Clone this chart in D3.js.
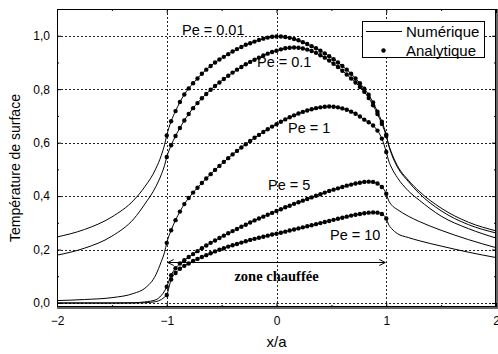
<!DOCTYPE html>
<html>
<head>
<meta charset="utf-8">
<script src="https://cdn.jsdelivr.net/npm/d3@7"></script>
<style>
  body { margin: 0; background: #fff; }
  svg { display: block; }
  text { font-family: "Liberation Sans", Arial, sans-serif; fill: #000; }
  text.serif { font-family: "Liberation Serif", "Times New Roman", serif; font-weight: bold; }
</style>
</head>
<body>
<svg id="chart" width="498" height="354"></svg>
<script>
// x/a positions of the analytic points (inside the heated zone)
const xAnalytic = [-1.00,-0.96,-0.92,-0.88,-0.84,-0.80,-0.76,-0.72,-0.68,-0.64,-0.60,-0.56,-0.52,-0.48,-0.44,-0.40,-0.36,-0.32,-0.28,-0.24,-0.20,-0.16,-0.12,-0.08,-0.04,
  0.00,0.04,0.08,0.12,0.16,0.20,0.24,0.28,0.32,0.36,0.40,0.44,0.48,0.52,0.56,0.60,0.64,0.68,0.72,0.76,0.80,0.84,0.88,0.92,0.96,1.00];

const pe001Analytic = [0.627,0.680,0.718,0.752,0.780,0.803,0.822,0.840,0.858,0.873,0.887,0.900,0.911,0.921,0.931,0.941,0.950,0.958,0.966,0.972,0.978,0.984,0.989,0.993,0.996,
  0.997,0.997,0.995,0.992,0.988,0.983,0.976,0.969,0.961,0.953,0.944,0.934,0.923,0.912,0.900,0.887,0.873,0.858,0.840,0.822,0.802,0.779,0.750,0.716,0.678,0.630];
const pe01Analytic = [0.546,0.590,0.625,0.655,0.683,0.707,0.729,0.748,0.766,0.782,0.798,0.812,0.825,0.838,0.850,0.862,0.873,0.883,0.893,0.902,0.910,0.918,0.926,0.933,0.939,
  0.944,0.949,0.953,0.955,0.956,0.955,0.952,0.948,0.943,0.936,0.927,0.918,0.907,0.895,0.883,0.869,0.855,0.840,0.825,0.808,0.790,0.767,0.740,0.707,0.670,0.625];
const pe1Analytic = [0.225,0.272,0.310,0.342,0.370,0.393,0.413,0.431,0.449,0.466,0.482,0.498,0.513,0.528,0.542,0.556,0.569,0.582,0.594,0.606,0.618,0.629,0.640,0.650,0.660,
  0.669,0.678,0.687,0.695,0.702,0.709,0.715,0.720,0.725,0.729,0.732,0.734,0.735,0.734,0.732,0.728,0.723,0.716,0.708,0.698,0.686,0.676,0.664,0.645,0.615,0.565];
const pe5Analytic = [0.061,0.104,0.130,0.148,0.160,0.172,0.183,0.194,0.205,0.215,0.225,0.234,0.243,0.252,0.261,0.269,0.277,0.285,0.293,0.301,0.309,0.316,0.323,0.330,0.337,
  0.344,0.351,0.358,0.364,0.371,0.377,0.383,0.389,0.395,0.401,0.407,0.413,0.419,0.424,0.429,0.434,0.439,0.443,0.447,0.450,0.453,0.454,0.453,0.447,0.434,0.409];
const pe10Analytic = [0.030,0.088,0.112,0.128,0.139,0.148,0.157,0.165,0.172,0.179,0.186,0.193,0.199,0.205,0.211,0.216,0.221,0.226,0.231,0.236,0.240,0.244,0.248,0.252,0.256,
  0.259,0.263,0.267,0.271,0.275,0.279,0.283,0.287,0.291,0.295,0.299,0.303,0.307,0.311,0.315,0.319,0.323,0.327,0.330,0.333,0.336,0.338,0.339,0.338,0.333,0.316];

// numerical solution outside the heated zone
const xLeft = [-2, -1.75, -1.5, -1.3, -1.2, -1.1, -1.05, -1.02];
const xRight = [1.02, 1.05, 1.1, 1.2, 1.3, 1.5, 1.75, 2];

const pe001Left = [0.247, 0.275, 0.322, 0.385, 0.435, 0.502, 0.552, 0.592];
const pe001Right = [0.593, 0.555, 0.510, 0.455, 0.410, 0.345, 0.293, 0.262];
const pe01Left = [0.179, 0.205, 0.250, 0.315, 0.370, 0.435, 0.480, 0.515];
const pe01Right = [0.595, 0.560, 0.515, 0.460, 0.418, 0.355, 0.302, 0.270];
const pe1Left = [0.009, 0.013, 0.020, 0.036, 0.055, 0.105, 0.155, 0.190];
const pe1Right = [0.535, 0.505, 0.470, 0.420, 0.385, 0.325, 0.278, 0.243];
const pe5Left = [0.000, 0.000, 0.000, 0.001, 0.004, 0.012, 0.028, 0.045];
const pe5Right = [0.385, 0.366, 0.350, 0.325, 0.305, 0.272, 0.237, 0.207];
const pe10Left = [0.000, 0.000, 0.000, 0.000, 0.001, 0.005, 0.013, 0.022];
const pe10Right = [0.295, 0.278, 0.260, 0.245, 0.233, 0.213, 0.190, 0.170];

const peNames = ["Pe = 0.01", "Pe = 0.1", "Pe = 1", "Pe = 5", "Pe = 10"];

const xTicks = [-2, -1, 0, 1, 2];
const xMinorTicks = [-1.5, -0.5, 0.5, 1.5];
const yTicks = [0, 0.2, 0.4, 0.6, 0.8, 1.0];
const yMinorTicks = [0.1, 0.3, 0.5, 0.7, 0.9];
const xGrid = [-1, 0, 1];

const series = [
  { name: peNames[0], analytic: pe001Analytic, left: pe001Left, right: pe001Right },
  { name: peNames[1], analytic: pe01Analytic, left: pe01Left, right: pe01Right },
  { name: peNames[2], analytic: pe1Analytic, left: pe1Left, right: pe1Right },
  { name: peNames[3], analytic: pe5Analytic, left: pe5Left, right: pe5Right },
  { name: peNames[4], analytic: pe10Analytic, left: pe10Left, right: pe10Right }
];

// label placement (pixels)
const labelPos = [[182, 35], [257, 67], [288, 133], [268, 190], [330, 240]];

const margin = { left: 57, right: 496, top: 9, bottom: 307 };
const svg = d3.select("#chart");

let x = d3.scaleLinear().domain([-2, 2]).range([margin.left, margin.right]);
let y = d3.scaleLinear().domain([-0.015, 1.1]).range([margin.bottom, margin.top]);

// grid
let grid = svg.append("g")
  .attr("stroke", "#222")
  .attr("stroke-width", 1)
  .attr("stroke-dasharray", "2,2");

grid.selectAll("line.h")
  .data(yTicks)
  .enter()
  .append("line")
  .attr("x1", margin.left)
  .attr("x2", margin.right)
  .attr("y1", (d) => Math.round(y(d)) + 0.5)
  .attr("y2", (d) => Math.round(y(d)) + 0.5);

grid.selectAll("line.v")
  .data(xGrid)
  .enter()
  .append("line")
  .attr("y1", margin.top)
  .attr("y2", margin.bottom)
  .attr("x1", (d) => Math.round(x(d)) + 0.5)
  .attr("x2", (d) => Math.round(x(d)) + 0.5);

// numerical curves
let line = d3.line()
  .x((d) => x(d[0]))
  .y((d) => y(d[1]))
  .curve(d3.curveMonotoneX);

series.forEach((s) => {
  let pts = xLeft.map((v, i) => [v, s.left[i]])
    .concat(xAnalytic.map((v, i) => [v, s.analytic[i]]))
    .concat(xRight.map((v, i) => [v, s.right[i]]));
  svg.append("path")
    .attr("d", line(pts))
    .attr("fill", "none")
    .attr("stroke", "#000")
    .attr("stroke-width", 1);
});

// analytic points
series.forEach((s) => {
  svg.append("g")
    .selectAll("circle")
    .data(s.analytic)
    .enter()
    .append("circle")
    .attr("cx", (d, i) => x(xAnalytic[i]))
    .attr("cy", (d) => y(d))
    .attr("r", 2.2)
    .attr("fill", "#000");
});

// frame
svg.append("rect")
  .attr("x", margin.left + 0.5)
  .attr("y", margin.top + 0.5)
  .attr("width", margin.right - margin.left - 1)
  .attr("height", margin.bottom - margin.top - 1)
  .attr("fill", "none")
  .attr("stroke", "#000");

svg.append("line")
  .attr("x1", margin.left).attr("x2", margin.right + 2)
  .attr("y1", margin.bottom + 1).attr("y2", margin.bottom + 1)
  .attr("stroke", "#666").attr("stroke-width", 2);
svg.append("line")
  .attr("x1", margin.right + 1).attr("x2", margin.right + 1)
  .attr("y1", margin.top).attr("y2", margin.bottom + 2)
  .attr("stroke", "#666").attr("stroke-width", 2);

// axes
function styleAxis(g) {
  g.select(".domain").remove();
  g.selectAll("text").attr("font-size", 12);
  g.selectAll("line").attr("stroke", "#000");
}

svg.append("g")
  .attr("transform", `translate(0,${margin.bottom})`)
  .call(d3.axisBottom(x).tickValues(xTicks).tickSize(-4).tickPadding(9).tickFormat(d3.format("d")))
  .call(styleAxis);
svg.append("g")
  .attr("transform", `translate(0,${margin.bottom})`)
  .call(d3.axisBottom(x).tickValues(xMinorTicks).tickSize(-2).tickFormat(""))
  .call(styleAxis);
svg.append("g")
  .attr("transform", `translate(0,${margin.top})`)
  .call(d3.axisTop(x).tickValues(xTicks).tickSize(-4).tickFormat(""))
  .call(styleAxis);
svg.append("g")
  .attr("transform", `translate(0,${margin.top})`)
  .call(d3.axisTop(x).tickValues(xMinorTicks).tickSize(-2).tickFormat(""))
  .call(styleAxis);

svg.append("g")
  .attr("transform", `translate(${margin.left},0)`)
  .call(d3.axisLeft(y).tickValues(yTicks).tickSize(-4).tickPadding(7)
    .tickFormat((d) => d3.format(".1f")(d).replace(".", ",")))
  .call(styleAxis);
svg.append("g")
  .attr("transform", `translate(${margin.left},0)`)
  .call(d3.axisLeft(y).tickValues(yMinorTicks).tickSize(-2).tickFormat(""))
  .call(styleAxis);
svg.append("g")
  .attr("transform", `translate(${margin.right},0)`)
  .call(d3.axisRight(y).tickValues(yTicks).tickSize(-4).tickFormat(""))
  .call(styleAxis);
svg.append("g")
  .attr("transform", `translate(${margin.right},0)`)
  .call(d3.axisRight(y).tickValues(yMinorTicks).tickSize(-2).tickFormat(""))
  .call(styleAxis);

// axis titles
svg.append("text")
  .attr("x", x(0))
  .attr("y", 347)
  .attr("text-anchor", "middle")
  .attr("font-size", 15)
  .text("x/a");

svg.append("text")
  .attr("transform", "translate(20,168) rotate(-90)")
  .attr("text-anchor", "middle")
  .attr("font-size", 14)
  .text("Température de surface");

// Pe labels
svg.selectAll("text.pe")
  .data(peNames)
  .enter()
  .append("text")
  .attr("class", "pe")
  .attr("x", (d, i) => labelPos[i][0])
  .attr("y", (d, i) => labelPos[i][1])
  .attr("font-size", 14.5)
  .text((d) => d);

// heated zone arrow
let arrowY = Math.round(y(0.152)) + 0.5;
svg.append("line")
  .attr("x1", x(-1) + 1).attr("x2", x(1) - 1)
  .attr("y1", arrowY).attr("y2", arrowY)
  .attr("stroke", "#000");
svg.append("path")
  .attr("d", `M${x(-1) + 7},${arrowY - 3} L${x(-1) + 1},${arrowY} L${x(-1) + 7},${arrowY + 3}`)
  .attr("fill", "none").attr("stroke", "#000");
svg.append("path")
  .attr("d", `M${x(1) - 7},${arrowY - 3} L${x(1) - 1},${arrowY} L${x(1) - 7},${arrowY + 3}`)
  .attr("fill", "none").attr("stroke", "#000");
svg.append("text")
  .attr("class", "serif")
  .attr("x", x(0))
  .attr("y", 280.5)
  .attr("text-anchor", "middle")
  .attr("font-size", 14.5)
  .text("zone chauffée");

// legend
let legend = svg.append("g");
legend.append("rect")
  .attr("x", 362.5).attr("y", 21.5)
  .attr("width", 122).attr("height", 36)
  .attr("fill", "#fff").attr("stroke", "#000");
legend.append("line")
  .attr("x1", 366).attr("x2", 402)
  .attr("y1", 31.5).attr("y2", 31.5)
  .attr("stroke", "#000");
legend.append("circle")
  .attr("cx", 383.5).attr("cy", 50.5).attr("r", 2.2).attr("fill", "#000");
legend.append("text")
  .attr("x", 406).attr("y", 37)
  .attr("font-size", 15)
  .text("Numérique");
legend.append("text")
  .attr("x", 406).attr("y", 56)
  .attr("font-size", 15)
  .text("Analytique");
</script>
</body>
</html>
